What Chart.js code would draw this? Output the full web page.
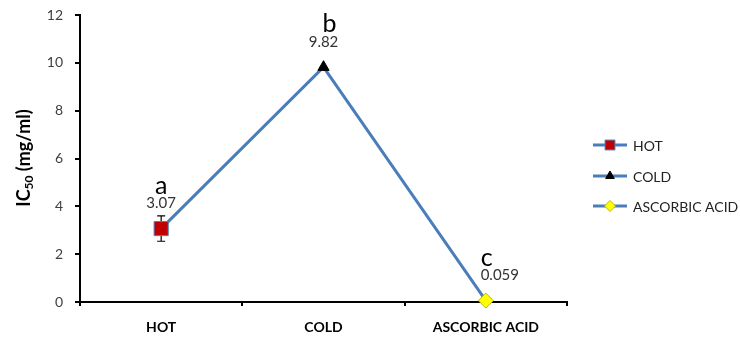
<!DOCTYPE html>
<html>
<head>
<meta charset="utf-8">
<style>
  html, body { margin: 0; padding: 0; background: #ffffff; }
  #wrap { width: 740px; height: 338px; position: relative; }
</style>
<script src="https://cdn.jsdelivr.net/npm/chart.js@4/dist/chart.umd.min.js"></script>
</head>
<body>
<div id="wrap"><canvas id="chart" width="740" height="338"></canvas></div>
<script>
// Extracts and their IC50 values (mg/ml)
const categories = ['HOT', 'COLD', 'ASCORBIC ACID'];
const ic50 = [3.07, 9.82, 0.059];
const ic50Error = [0.53, 0, 0];
const valueLabels = ['3.07', '9.82', '0.059'];
const groupLetters = ['a', 'b', 'c'];
const yMin = 0, yMax = 12, yStep = 2;

const FONT = 'Lato, "Open Sans", "Liberation Sans", sans-serif';
const LINE_BLUE = '#4a7ebb';
const markerStyle = ['rect', 'triangle', 'rectRot'];
const markerFill = ['#c00000', '#000000', '#ffff00'];
const markerEdge = ['#4f81bd', '#000000', '#b8b800'];
const markerRadius = [10, 6.5, 7.5];

// Error bars, value labels and significance letters
const annotations = {
  id: 'annotations',
  beforeDatasetsDraw(chart) {
    const ctx = chart.ctx;
    const meta = chart.getDatasetMeta(0);
    const y = chart.scales.y;
    ctx.save();
    ctx.strokeStyle = '#000';
    ctx.lineWidth = 1.2;
    ic50.forEach((v, i) => {
      const e = ic50Error[i];
      if (!e) return;
      const px = meta.data[i].x;
      const top = y.getPixelForValue(v + e);
      const bot = y.getPixelForValue(v - e);
      ctx.beginPath();
      ctx.moveTo(px, top); ctx.lineTo(px, bot);
      ctx.moveTo(px - 4, top); ctx.lineTo(px + 4, top);
      ctx.moveTo(px - 4, bot); ctx.lineTo(px + 4, bot);
      ctx.stroke();
    });
    ctx.restore();
  },
  afterDatasetsDraw(chart) {
    const ctx = chart.ctx;
    const meta = chart.getDatasetMeta(0);
    const valueDx = [0, 0, 14];
    const letterDx = [0, 6, 1];
    ctx.save();
    ctx.textAlign = 'center';
    ctx.textBaseline = 'middle';
    meta.data.forEach((pt, i) => {
      ctx.fillStyle = '#333333';
      ctx.font = '15px ' + FONT;
      ctx.fillText(valueLabels[i], pt.x + valueDx[i], pt.y - 25);
      ctx.fillStyle = '#000000';
      ctx.font = '25px ' + FONT;
      ctx.fillText(groupLetters[i], pt.x + letterDx[i], pt.y - 43);
    });
    ctx.restore();
  },
  afterDraw(chart) {
    const ctx = chart.ctx;
    const H = Chart.helpers;
    // Y axis title with subscript
    ctx.save();
    ctx.translate(24, 158);
    ctx.rotate(-Math.PI / 2);
    ctx.fillStyle = '#000';
    ctx.textBaseline = 'alphabetic';
    ctx.textAlign = 'left';
    const big = 'bold 18px ' + FONT, small = 'bold 12px ' + FONT;
    ctx.font = big; const w1 = ctx.measureText('IC').width;
    ctx.font = small; const w2 = ctx.measureText('50').width;
    ctx.font = big; const w3 = ctx.measureText(' (mg/ml)').width;
    let x0 = -(w1 + w2 + w3) / 2;
    const base = 6;
    ctx.font = big; ctx.fillText('IC', x0, base); x0 += w1;
    ctx.font = small; ctx.fillText('50', x0, base + 3); x0 += w2;
    ctx.font = big; ctx.fillText(' (mg/ml)', x0, base);
    ctx.restore();

    // Legend: line segment with marker, then name
    ctx.save();
    const legendY = [145, 176, 206];
    const legendR = [7, 5, 5.5];
    categories.forEach((name, i) => {
      const ly = legendY[i];
      ctx.strokeStyle = LINE_BLUE;
      ctx.lineWidth = 3;
      ctx.beginPath(); ctx.moveTo(593, ly); ctx.lineTo(627, ly); ctx.stroke();
      ctx.fillStyle = markerFill[i];
      ctx.strokeStyle = markerEdge[i];
      ctx.lineWidth = 1;
      H.drawPoint(ctx, { pointStyle: markerStyle[i], radius: legendR[i], rotation: 0, borderWidth: 1 }, 610, ly);
      ctx.fillStyle = '#222222';
      ctx.font = '14px ' + FONT;
      ctx.textAlign = 'left';
      ctx.textBaseline = 'middle';
      ctx.fillText(name, 633, ly + 1);
    });
    ctx.restore();
  }
};

new Chart(document.getElementById('chart'), {
  type: 'line',
  data: {
    labels: categories,
    datasets: [{
      label: 'IC50',
      data: ic50,
      borderColor: LINE_BLUE,
      borderWidth: 3,
      tension: 0,
      clip: false,
      pointStyle: markerStyle,
      pointBackgroundColor: markerFill,
      pointBorderColor: markerEdge,
      pointBorderWidth: 1,
      pointRadius: markerRadius
    }]
  },
  options: {
    responsive: false,
    animation: false,
    events: [],
    layout: { padding: { left: 0, right: 173, top: 15, bottom: 0 } },
    plugins: { legend: { display: false }, tooltip: { enabled: false } },
    scales: {
      x: {
        type: 'category',
        offset: true,
        grid: { display: true, offset: true, drawOnChartArea: false, color: '#000', tickLength: 4, lineWidth: 2 },
        border: { color: '#000', width: 2 },
        ticks: { color: '#000', padding: 13, font: { family: FONT, size: 14, weight: 'bold' } },
        afterFit(s) { s.height = 36; s.paddingLeft = 0; s.paddingRight = 0; }
      },
      y: {
        min: yMin, max: yMax,
        grid: { display: true, drawOnChartArea: false, color: '#000', tickLength: 5, lineWidth: 2 },
        border: { color: '#000', width: 2 },
        ticks: { stepSize: yStep, color: '#404040', padding: 12, font: { family: FONT, size: 14 } },
        afterFit(s) { s.width = 80; s.paddingTop = 0; s.paddingBottom = 0; }
      }
    }
  },
  plugins: [annotations]
});
</script>
</body>
</html>
